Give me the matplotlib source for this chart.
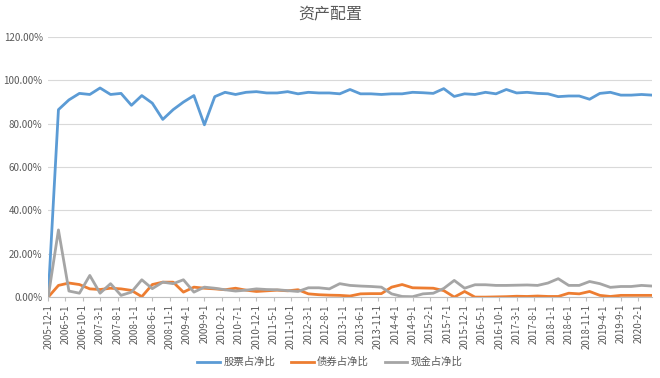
import datetime as dt
import matplotlib
matplotlib.use("Agg")
import matplotlib.pyplot as plt
from matplotlib.ticker import FuncFormatter

plt.rcParams['font.family'] = ['Noto Sans CJK SC', 'DejaVu Sans']

# quarterly report dates, 2005-12 .. 2020-6
dates = []
y, m = 2005, 12
while (y, m) <= (2020, 6):
    dates.append(dt.date(y, m, 1))
    m += 3
    if m > 12:
        m -= 12
        y += 1

stock = [0, 86.5, 91, 94, 93.5, 96.5, 93.5, 94, 88.5, 93,
         89.5, 82, 86.5, 90, 93, 79.5, 92.5, 94.5, 93.5, 94.5,
         94.8, 94.2, 94.2, 94.8, 93.8, 94.5, 94.2, 94.2, 93.8, 95.8,
         93.8, 93.8, 93.5, 93.8, 93.8, 94.5, 94.3, 94, 96.2, 92.6,
         93.8, 93.5, 94.5, 93.8, 95.8, 94.2, 94.5, 94, 93.8, 92.5,
         92.8, 92.8, 91.3, 94, 94.5, 93.2, 93.2, 93.5, 93.2]
bond = [0, 5.4, 6.5, 5.8, 3.8, 3.5, 4.1, 3.8, 3.1, 0.2,
        5.8, 6.9, 6.9, 2.3, 4.6, 4.1, 3.8, 3.4, 4.1, 3.2,
        2.6, 2.9, 3.2, 2.9, 3.4, 1.5, 1.1, 0.9, 0.8, 0.5,
        1.5, 1.6, 1.6, 4.6, 5.8, 4.3, 4.2, 4.1, 3.0, 0.0,
        2.6, 0, 0, 0.1, 0.2, 0.4, 0.3, 0.5, 0.3, 0.3,
        1.8, 1.5, 2.6, 0.8, 0.3, 0.8, 0.8, 0.8, 0.8]
cash = [0, 31, 2.8, 1.8, 10, 1.8, 6.2, 0.8, 2.3, 8,
        3.9, 6.9, 6.2, 8, 2.3, 4.6, 4.1, 3.4, 2.8, 3.2,
        3.8, 3.5, 3.4, 3.0, 2.6, 4.3, 4.3, 3.8, 6.2, 5.4,
        5.1, 4.9, 4.6, 1.5, 0.3, 0.2, 1.5, 1.8, 4.0, 7.7,
        4.1, 5.7, 5.7, 5.4, 5.4, 5.5, 5.6, 5.4, 6.5, 8.5,
        5.4, 5.4, 7.2, 6.2, 4.5, 4.9, 4.9, 5.4, 5.1]

series_names = ['股票占净比', '债券占净比', '现金占净比']
colors = ['#5b9bd5', '#ed7d31', '#a5a5a5']

# axis labels every 5 months
tick_dates = []
y, m = 2005, 12
while (y, m) <= (2020, 2):
    tick_dates.append(dt.date(y, m, 1))
    m += 5
    if m > 12:
        m -= 12
        y += 1
tick_labels = [f"{d.year}-{d.month}-{d.day}" for d in tick_dates]

fig = plt.figure(figsize=(6.6, 3.78), dpi=100)
ax = fig.add_axes([0.073, 0.214, 0.915, 0.688])

for vals, name, c in zip([stock, bond, cash], series_names, colors):
    ax.plot(dates, [v / 100 for v in vals], color=c, lw=2, label=name,
            solid_joinstyle='round')

ax.set_ylim(0, 1.2)
ax.set_yticks([0, 0.2, 0.4, 0.6, 0.8, 1.0, 1.2])
ax.yaxis.set_major_formatter(FuncFormatter(lambda v, p: f"{v*100:.2f}%"))
ax.set_xlim(dates[0], dates[-1])
ax.set_xticks(tick_dates)
ax.set_xticklabels(tick_labels, rotation=90)

ax.grid(axis='y', color='#d9d9d9', lw=0.8)
ax.set_axisbelow(True)
for s in ['top', 'right', 'left']:
    ax.spines[s].set_visible(False)
ax.spines['bottom'].set_color('#bfbfbf')
ax.tick_params(axis='y', length=0, labelsize=7, colors='#595959', pad=4)
ax.tick_params(axis='x', length=3, color='#bfbfbf', labelsize=7,
               labelcolor='#595959', pad=2)

fig.suptitle('资产配置', x=0.5, y=0.985, fontsize=11.5, color='#595959')
fig.legend(loc='center', bbox_to_anchor=(0.5, 1 - 362 / 378), ncol=3,
           frameon=False, fontsize=7.5, labelcolor='#595959',
           handlelength=2.2, handletextpad=0.3, columnspacing=1.5)

fig.savefig('out.png', dpi=100)
